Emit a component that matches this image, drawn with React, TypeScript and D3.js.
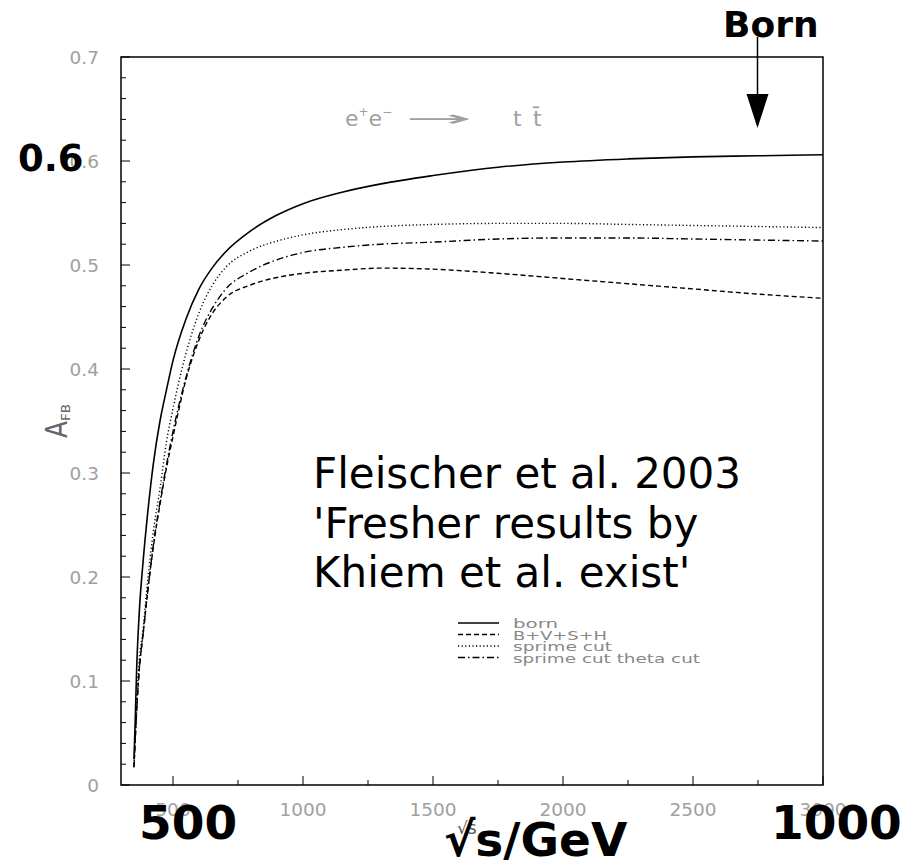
import React from "react";
import * as d3 from "d3";

const sqrtS = [350, 355, 360, 370, 385, 400, 425, 450, 475, 500, 550, 600, 650, 700, 800, 900, 1000, 1150, 1300, 1500, 1750, 2000, 2250, 2500, 2750, 3000];
const born = [0.025, 0.065, 0.11, 0.165, 0.215, 0.255, 0.31, 0.35, 0.38, 0.408, 0.448, 0.477, 0.497, 0.512, 0.533, 0.548, 0.559, 0.57, 0.578, 0.586, 0.594, 0.599, 0.602, 0.604, 0.605, 0.606];
const bvsh = [0.017, 0.045, 0.07, 0.11, 0.145, 0.18, 0.23, 0.27, 0.305, 0.335, 0.39, 0.428, 0.453, 0.468, 0.481, 0.488, 0.492, 0.495, 0.497, 0.496, 0.492, 0.487, 0.482, 0.477, 0.472, 0.468];
const sprime = [0.02, 0.05, 0.08, 0.12, 0.15, 0.19, 0.245, 0.285, 0.33, 0.362, 0.415, 0.454, 0.48, 0.497, 0.514, 0.523, 0.529, 0.534, 0.537, 0.539, 0.54, 0.54, 0.539, 0.538, 0.537, 0.536];
const sprimeTheta = [0.017, 0.045, 0.07, 0.11, 0.145, 0.18, 0.232, 0.272, 0.308, 0.34, 0.392, 0.432, 0.458, 0.476, 0.494, 0.505, 0.512, 0.517, 0.52, 0.522, 0.525, 0.526, 0.526, 0.525, 0.524, 0.523];

const seriesNames = ["born", "B+V+S+H", "sprime cut", "sprime cut theta cut"];
const xMajorTicks = [500, 1000, 1500, 2000, 2500, 3000];
const xMinorTicks = [750, 1250, 1750, 2250, 2750];
const yMajorTicks = [0, 0.1, 0.2, 0.3, 0.4, 0.5, 0.6, 0.7];
const yTickLabels = ["0", "0.1", "0.2", "0.3", "0.4", "0.5", "0.6", "0.7"];
const yMinorTicks = d3.range(0, 0.7001, 0.02).filter((v) => Math.abs(v * 10 - Math.round(v * 10)) > 1e-6);
const noteLines = ["Fleischer et al. 2003", "'Fresher results by", "Khiem et al. exist'"];

const dashes = [null, "5,3", "1.2,2.4", "7,3,1.5,3"];
const legendWidths = [45, 94, 99, 187];

export default function App() {
  const x = d3.scaleLinear().domain([300, 3000]).range([121, 823]);
  const y = d3.scaleLinear().domain([0, 0.7]).range([785, 57]);
  const allSeries = [born, bvsh, sprime, sprimeTheta];
  const line = d3
    .line<[number, number]>()
    .x((d) => x(d[0]))
    .y((d) => y(d[1]))
    .curve(d3.curveMonotoneX);

  const thin = { fontFamily: "DejaVu Sans", fontWeight: 400 as any, fill: "#a0a0a0" };
  const bold = { fontFamily: "DejaVu Sans", fontWeight: 700 as any, fill: "#000" };

  return (
    <svg width={918} height={861} style={{ position: "absolute", left: 0, top: 0, background: "#fff" }}>
      <rect x={0} y={0} width={918} height={861} fill="#fff" />
      {/* frame */}
      <rect x={121} y={57} width={702} height={728} fill="none" stroke="#000" strokeWidth={1.5} />
      {/* x ticks */}
      {xMajorTicks.map((t) => (
        <line key={"xm" + t} x1={x(t)} x2={x(t)} y1={785} y2={776} stroke="#000" strokeWidth={1} />
      ))}
      {xMinorTicks.map((t) => (
        <line key={"xn" + t} x1={x(t)} x2={x(t)} y1={785} y2={780} stroke="#000" strokeWidth={1} />
      ))}
      {xMajorTicks.map((t) => (
        <text key={"xl" + t} x={x(t)} y={816} textAnchor="middle" fontSize={18.5} {...thin}>
          {t}
        </text>
      ))}
      {/* y ticks */}
      {yMajorTicks.map((t) => (
        <line key={"ym" + t} x1={121} x2={130} y1={y(t)} y2={y(t)} stroke="#000" strokeWidth={1} />
      ))}
      {yMinorTicks.map((t) => (
        <line key={"yn" + t} x1={121} x2={126} y1={y(t)} y2={y(t)} stroke="#000" strokeWidth={1} />
      ))}
      {yMajorTicks.map((t, i) => (
        <text key={"yl" + t} x={99} y={y(t) + 7} textAnchor="end" fontSize={18.5} {...thin}>
          {yTickLabels[i]}
        </text>
      ))}
      {/* axis titles */}
      <text transform="translate(67,438) rotate(-90)" {...thin} fill="#666">
        <tspan fontSize={30} textLength={17} lengthAdjust="spacingAndGlyphs">A</tspan>
        <tspan fontSize={12} dy={3} textLength={17} lengthAdjust="spacingAndGlyphs">FB</tspan>
      </text>
      <text x={457} y={834} fontSize={17} fontFamily="DejaVu Sans" fill="#555">
        √s
      </text>
      {/* process label */}
      <text y={126} fontSize={22} {...thin}>
        <tspan x={345}>e</tspan>
        <tspan dy={-10} fontSize={12}>+</tspan>
        <tspan dy={10}>e</tspan>
        <tspan dy={-10} fontSize={12}>−</tspan>
        <tspan x={406} dy={10} textLength={67} lengthAdjust="spacingAndGlyphs">→</tspan>
        <tspan x={513}>t</tspan>
        <tspan x={533}>t̄</tspan>
      </text>
      {/* curves */}
      {allSeries.map((vals, i) => (
        <path
          key={"s" + i}
          d={line(sqrtS.map((s, j) => [s, vals[j]] as [number, number])) || ""}
          fill="none"
          stroke="#000"
          strokeWidth={i === 0 ? 1.6 : 1.4}
          strokeDasharray={dashes[i] || undefined}
        />
      ))}
      {/* legend */}
      {seriesNames.map((n, i) => {
        const ly = 623 + i * 11.5;
        return (
          <g key={"lg" + i}>
            <line x1={458} x2={499} y1={ly} y2={ly} stroke="#000" strokeWidth={1.3} strokeDasharray={dashes[i] || undefined} />
            <text x={513} y={ly + 5} fontSize={13} textLength={legendWidths[i]} lengthAdjust="spacingAndGlyphs" {...thin} fill="#888">
              {n}
            </text>
          </g>
        );
      })}
      {/* note */}
      {noteLines.map((l, i) => (
        <text key={"n" + i} x={313} y={488 + i * 49.5} fontSize={42} fontFamily="DejaVu Sans" fill="#000">
          {l}
        </text>
      ))}
      {/* overlays */}
      <text x={18} y={171} fontSize={37} {...bold}>0.6</text>
      <text x={139} y={839} fontSize={47} {...bold}>500</text>
      <text x={771} y={839} fontSize={47} {...bold}>1000</text>
      <text x={444} y={856} fontSize={47} {...bold}>√s/GeV</text>
      <text x={723} y={37} fontSize={36} {...bold}>Born</text>
      <line x1={757.5} x2={757.5} y1={37} y2={100} stroke="#000" strokeWidth={1.5} />
      <path d="M746.5,94 L768.5,94 L757.5,128 Z" fill="#000" />
    </svg>
  );
}
